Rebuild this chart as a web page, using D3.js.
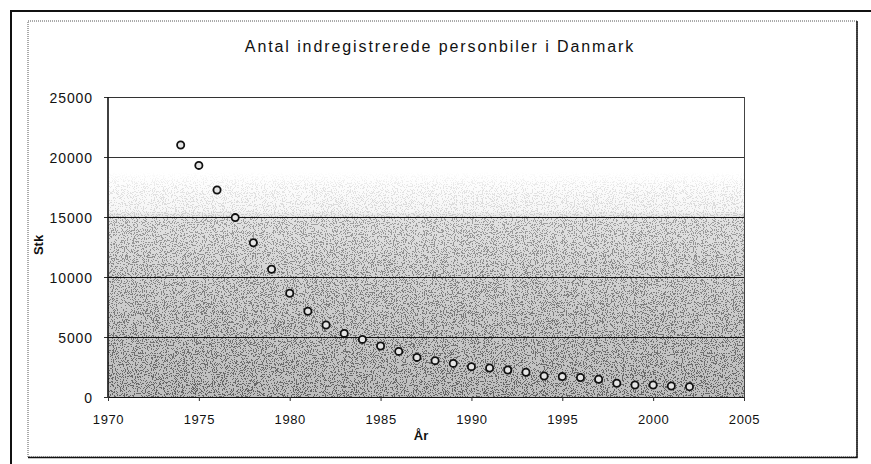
<!DOCTYPE html>
<html>
<head>
<meta charset="utf-8">
<script src="https://cdn.jsdelivr.net/npm/d3@7"></script>
<style>
  body { margin: 0; background: #fff; }
  svg text { font-family: "Liberation Sans", Arial, sans-serif; fill: #111; }
</style>
</head>
<body>
<div id="chart"></div>
<script>
// aar og antal
var years = [1974, 1975, 1976, 1977, 1978, 1979, 1980, 1981, 1982, 1983, 1984, 1985, 1986, 1987,
             1988, 1989, 1990, 1991, 1992, 1993, 1994, 1995, 1996, 1997, 1998, 1999, 2000, 2001, 2002];
var cars = [21000, 19300, 17250, 14950, 12850, 10650, 8650, 7150, 6000, 5300, 4800, 4250, 3800, 3300,
            3030, 2800, 2530, 2420, 2250, 2060, 1750, 1700, 1620, 1480, 1150, 1000, 1000, 920, 860];
var xTicks = [1970, 1975, 1980, 1985, 1990, 1995, 2000, 2005];
var yTicks = [0, 5000, 10000, 15000, 20000, 25000];
var title = "Antal indregistrerede personbiler i Danmark";

var width = 871, height = 464;
var margin = {left: 108, top: 97, right: 744, bottom: 397};

var svg = d3.select("#chart").append("svg")
    .attr("width", width).attr("height", height);

var x = d3.scaleLinear().domain([1970, 2005]).range([margin.left, margin.right]);
var y = d3.scaleLinear().domain([0, 25000]).range([margin.bottom, margin.top]);

var defs = svg.append("defs");

// baggrund: graa gradient
var grad = defs.append("linearGradient").attr("id", "bg")
    .attr("x1", 0).attr("y1", 0).attr("x2", 0).attr("y2", 1);
[[0, "#ffffff"], [0.26, "#ffffff"], [0.38, "#f6f6f6"], [0.4, "#e2e2e2"],
 [0.6, "#d2d2d2"], [0.8, "#c6c6c6"], [1, "#bdbdbd"]].forEach(function(s) {
    grad.append("stop").attr("offset", s[0]).attr("stop-color", s[1]);
});

// prikket raster (som i det scannede billede)
var mgrad = defs.append("linearGradient").attr("id", "mgrad")
    .attr("x1", 0).attr("y1", 0).attr("x2", 0).attr("y2", 1);
[[0, "#000"], [0.25, "#000"], [0.3, "#2a2a2a"], [0.395, "#404040"], [0.405, "#909090"],
 [0.6, "#b8b8b8"], [1, "#eeeeee"]].forEach(function(s) {
    mgrad.append("stop").attr("offset", s[0]).attr("stop-color", s[1]);
});
defs.append("mask").attr("id", "dotmask")
    .append("rect")
    .attr("x", margin.left).attr("y", margin.top)
    .attr("width", margin.right - margin.left).attr("height", margin.bottom - margin.top)
    .attr("fill", "url(#mgrad)");

var filt = defs.append("filter").attr("id", "stipple")
    .attr("x", 0).attr("y", 0).attr("width", 1).attr("height", 1);
filt.append("feTurbulence")
    .attr("type", "fractalNoise").attr("baseFrequency", 0.9)
    .attr("numOctaves", 2).attr("seed", 4).attr("result", "n");
filt.append("feColorMatrix")
    .attr("type", "matrix")
    .attr("values", "0 0 0 0 0  0 0 0 0 0  0 0 0 0 0  6 0 0 0 -2.9");
filt.append("feComponentTransfer")
    .append("feFuncA").attr("type", "discrete").attr("tableValues", "0 1");

// rammer
svg.append("path")
    .attr("d", "M11,464 V11 H871")
    .attr("fill", "none").attr("stroke", "#111").attr("stroke-width", 2);
svg.append("rect")
    .attr("x", 28).attr("y", 21).attr("width", 829).attr("height", 436)
    .attr("fill", "#fff").attr("stroke", "#555").attr("stroke-width", 1)
    .attr("stroke-dasharray", "1,1");
svg.append("path")
    .attr("d", "M28,457.5 H857 V21")
    .attr("fill", "none").attr("stroke", "#111").attr("stroke-width", 1.5);

svg.append("rect")
    .attr("x", margin.left).attr("y", margin.top)
    .attr("width", margin.right - margin.left).attr("height", margin.bottom - margin.top)
    .attr("fill", "url(#bg)");
svg.append("g").attr("mask", "url(#dotmask)")
    .append("rect")
    .attr("x", margin.left).attr("y", margin.top)
    .attr("width", margin.right - margin.left).attr("height", margin.bottom - margin.top)
    .attr("fill", "#000")
    .attr("filter", "url(#stipple)")
    .attr("opacity", 0.5);

// gitterlinjer
svg.append("g")
    .selectAll("line")
    .data(yTicks)
    .enter().append("line")
    .attr("x1", margin.left).attr("x2", margin.right)
    .attr("y1", function(d) { return y(d) + 0.5; })
    .attr("y2", function(d) { return y(d) + 0.5; })
    .attr("stroke", function(d) { return d >= 20000 ? "#333" : "#111"; })
    .attr("stroke-width", 1);

svg.append("line")
    .attr("x1", margin.right + 0.5).attr("x2", margin.right + 0.5)
    .attr("y1", margin.top).attr("y2", margin.bottom)
    .attr("stroke", "#444").attr("stroke-width", 1);

// akser
var yAxis = svg.append("g")
    .attr("transform", "translate(" + margin.left + ",0)")
    .call(d3.axisLeft(y).tickValues(yTicks).tickSize(4).tickPadding(11).tickFormat(d3.format("d")));
var xAxis = svg.append("g")
    .attr("transform", "translate(0," + margin.bottom + ")")
    .call(d3.axisBottom(x).tickValues(xTicks).tickSize(4).tickPadding(14).tickFormat(d3.format("d")));

[yAxis, xAxis].forEach(function(a) {
    a.select(".domain").remove();
    a.selectAll(".tick line").attr("stroke", "#333");
    a.selectAll(".tick text")
        .style("font-family", "'Liberation Sans', Arial, sans-serif")
        .style("font-size", "13px").style("letter-spacing", "0.6px").attr("fill", "#222");
});
yAxis.selectAll(".tick text").attr("dy", "0.36em")
    .style("font-size", "14px").style("letter-spacing", "0.9px");

svg.append("line")
    .attr("x1", margin.left).attr("x2", margin.left)
    .attr("y1", margin.top).attr("y2", margin.bottom)
    .attr("stroke", "#111").attr("stroke-width", 1.6);

// punkter
svg.append("g")
    .selectAll("circle")
    .data(years)
    .enter().append("circle")
    .attr("cx", function(d) { return x(d); })
    .attr("cy", function(d, i) { return y(cars[i]); })
    .attr("r", 3.6)
    .attr("fill", "#e6e6e6")
    .attr("stroke", "#111")
    .attr("stroke-width", 1.8);

// tekster
svg.append("text")
    .attr("x", 440).attr("y", 52)
    .attr("text-anchor", "middle")
    .style("font-size", "16px").style("letter-spacing", "1.9px")
    .text(title);

svg.append("text")
    .attr("x", 421).attr("y", 440)
    .attr("text-anchor", "middle")
    .style("font-size", "13px").style("font-weight", "bold")
    .text("År");

svg.append("text")
    .attr("transform", "translate(43,245) rotate(-90)")
    .attr("text-anchor", "middle")
    .style("font-size", "13px").style("font-weight", "bold")
    .text("Stk");
</script>
</body>
</html>
